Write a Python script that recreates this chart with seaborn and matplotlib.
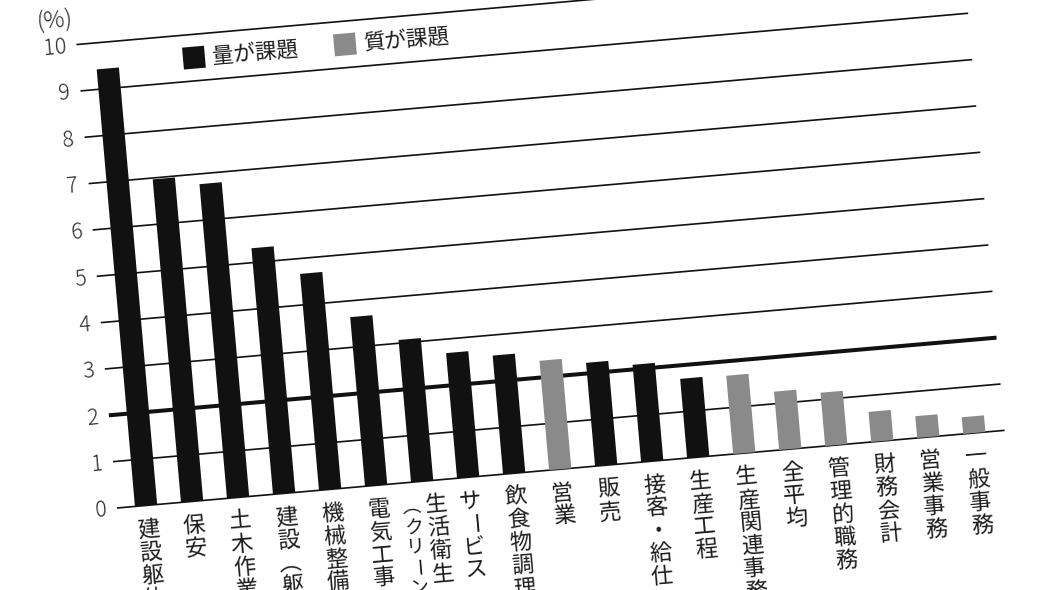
import matplotlib
matplotlib.use("Agg")
import matplotlib.pyplot as plt
from matplotlib.transforms import Affine2D
from matplotlib.patches import Rectangle
import numpy as np
import pandas as pd
import seaborn as sns

# ---------------- data ----------------
categories = ["建設躯体工事", "保安", "土木作業", "建設（躯体工事除く）", "機械整備・修理",
              "電気工事", "生活衛生（クリーン）", "サービス", "飲食物調理", "営業",
              "販売", "接客・給仕", "生産工程", "生産関連事務", "全平均",
              "管理的職務", "財務会計", "営業事務", "一般事務"]
values = [9.43, 6.97, 6.78, 5.31, 4.67, 3.65, 3.07, 2.70, 2.56, 2.36,
          2.23, 2.10, 1.71, 1.69, 1.26, 1.15, 0.65, 0.47, 0.36]
groups = ["量が課題"] * 9 + ["質が課題"] + ["量が課題"] * 3 + ["質が課題"] * 6
tick_columns = [["建設躯体工事"], ["保安"], ["土木作業"], ["建設（躯体工事除く）"], ["機械整備・修理"],
                ["電気工事"], ["生活衛生", "（クリーン）"], ["サービス"], ["飲食物調理"], ["営業"],
                ["販売"], ["接客・給仕"], ["生産工程"], ["生産関連事務"], ["全平均"],
                ["管理的職務"], ["財務会計"], ["営業事務"], ["一般事務"]]
y_ticks = list(range(0, 11))
unit_label = "(%)"
legend_names = ["量が課題", "質が課題"]

# ---------------- style ----------------
sns.set_theme(style="white")
FONT = ["Noto Sans CJK JP", "DejaVu Sans"]
plt.rcParams["font.family"] = FONT
BLACK = "#111111"
GRAY = "#8a8a8a"
TXT = "#1c1c1c"
palette = {"量が課題": BLACK, "質が課題": GRAY}

W, H = 1050, 590
PX0, PY0 = 117.0, 590 - 508.0     # display position of the zero gridline's left end
U_OFF, U_STEP = 29.15, 46.19       # px
V_UNIT = 46.52                     # px per 1 %
ANGLE = 5.0
BAR_W = 0.483
GRID_END = 891.0                   # px length of gridlines

df = pd.DataFrame({"職種": categories, "値": values, "区分": groups})

fig = plt.figure(figsize=(W / 100, H / 100), dpi=100)
fig.patch.set_facecolor("white")
ax = fig.add_axes([0, 0, 1, 1])
sns.barplot(data=df, x="職種", y="値", hue="区分", palette=palette, dodge=False,
            width=BAR_W, saturation=1, legend=False, ax=ax, linewidth=0, zorder=3)
ax.set_xlim((0 - PX0 - U_OFF) / U_STEP, (W - PX0 - U_OFF) / U_STEP)
ax.set_ylim(-PY0 / V_UNIT, (H - PY0) / V_UNIT)
ax.set_axis_off()

rot = Affine2D().rotate_deg_around(PX0, PY0, ANGLE)
T = ax.transData + rot
for p in ax.patches:
    p.set_transform(T)
    p.set_clip_on(False)

gx0 = (0 - U_OFF) / U_STEP
gx1 = (GRID_END - U_OFF) / U_STEP

# gridlines + tick labels
for k in y_ticks:
    ax.plot([gx0, gx1], [k, k], color=BLACK, lw=2.9 if k == 2 else 1.2,
            transform=T, zorder=1, clip_on=False, solid_capstyle="butt")
    ax.text(gx0 - 10.5 / U_STEP, k - 0.03, str(k), ha="right", va="center",
            rotation=ANGLE, rotation_mode="anchor", transform=T,
            fontsize=15.5, color="#2a2a2a", fontweight="light")
ax.text((-19 - U_OFF) / U_STEP, 10.56, unit_label, ha="center", va="center",
        rotation=ANGLE, rotation_mode="anchor", transform=T,
        fontsize=17, color="#2a2a2a", fontweight="light")

# legend
sq_w, sq_h = 22 / U_STEP, 22 / V_UNIT
for name, cx in zip(legend_names, [1.878, 5.16]):
    ax.add_patch(Rectangle((cx - sq_w / 2, 9.5 - sq_h / 2), sq_w, sq_h,
                           facecolor=palette[name], edgecolor="none",
                           transform=T, clip_on=False))
    ax.text(cx + sq_w / 2 + 7 / U_STEP, 9.49, name, ha="left", va="center",
            rotation=ANGLE, rotation_mode="anchor", transform=T,
            fontsize=15.5, color=TXT)

# vertical category labels
VERT = {"（": "︵", "）": "︶"}
def draw_column(text, x, y0, pitch_px, size):
    for j, ch in enumerate(text):
        y = y0 - j * pitch_px / V_UNIT
        r = ANGLE - 90 if ch == "ー" else ANGLE
        ax.text(x, y, VERT.get(ch, ch), ha="center", va="center", rotation=r,
                rotation_mode="anchor", transform=T, fontsize=size, color=TXT)

first_y = -24 / V_UNIT
for i, cols in enumerate(tick_columns):
    if len(cols) == 1:
        draw_column(cols[0], i, first_y, 23.0, 16)
    else:
        draw_column(cols[0], i + 12.5 / U_STEP, first_y, 23.5, 16)
        draw_column(cols[1], i - 12.5 / U_STEP, first_y, 20.5, 13.5)

fig.savefig("out.png", dpi=100, facecolor="white")
